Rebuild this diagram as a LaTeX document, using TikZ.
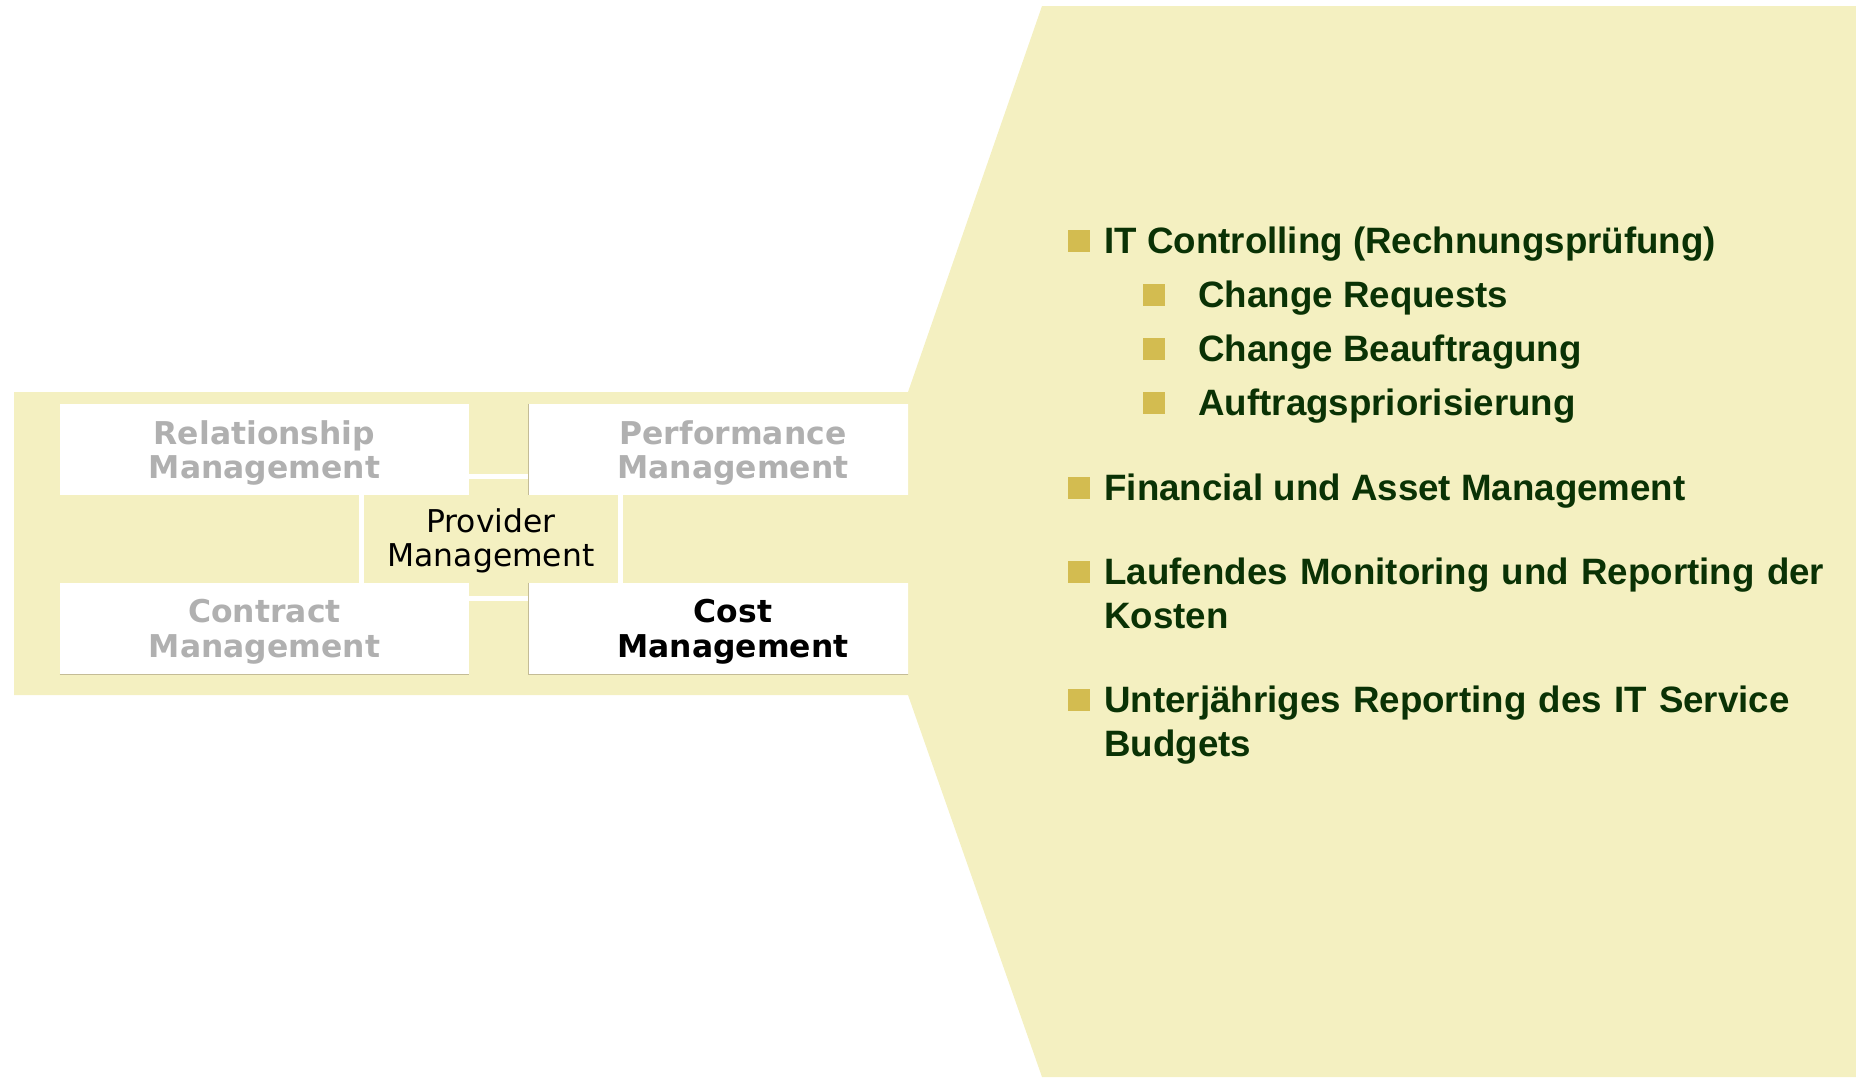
\documentclass[tikz,border=0pt]{standalone}
\usepackage{fontspec}
\newfontfamily\boxfont{DejaVu Sans}
\newfontfamily\itemfont{Liberation Sans}
\definecolor{bandyellow}{RGB}{244,240,193}
\definecolor{bulletgold}{RGB}{211,188,80}
\definecolor{itemgreen}{RGB}{10,50,5}
\definecolor{fadegray}{RGB}{176,176,176}
\definecolor{edgetan}{RGB}{196,188,150}

\begin{document}
\begin{tikzpicture}[x=0.5pt,y=-0.5pt]
		\tikzstyle{every node}+=[inner sep=0pt]
		\tikzstyle{mgmtbox}=[fill=white, minimum width=204.5pt, minimum height=45.5pt, text depth=0pt, align=center, font={\boxfont\bfseries\fontsize{15.7}{17.3}\selectfont}]
		\tikzstyle{provbox}=[draw=white, line width=2.5pt, fill=bandyellow, minimum width=129.5pt, minimum height=61pt, text depth=0pt, align=center, font={\boxfont\fontsize{15.7}{16.8}\selectfont}]
		\tikzstyle{bullet}=[fill=bulletgold, minimum size=11pt, anchor=south west]
		\tikzstyle{item}=[anchor=base west, align=left, text=itemgreen, font={\itemfont\bfseries\fontsize{18.35}{22}\selectfont}]
		\useasboundingbox (0,0) rectangle (1856,1077);
		% band and wedge
		\fill [bandyellow] (14,392) -- (908,392) -- (1042,6) -- (1856,6) -- (1856,1077) -- (1042,1077) -- (908,695) -- (14,695) -- cycle;
		% the four areas round the provider
		\node [provbox] (prov) at (491,537.5) {Provider\\Management};
		\begin{scope}
		\clip (0,0) rectangle (908,1077);
		\node [mgmtbox, text=fadegray] (rel) at (264.5,449.5) {Relationship\\Management};
		\node [mgmtbox, text=fadegray] (perf) at (733,449.5) {Performance\\Management};
		\node [mgmtbox, text=fadegray] (contr) at (264.5,628.5) {Contract\\Management};
		\node [mgmtbox, text=black] (cost) at (733,628.5) {Cost\\Management};
		\draw [edgetan, line width=0.6pt] (perf.north west) -- (perf.south west);
		\draw [edgetan, line width=0.6pt] (cost.north west) -- (cost.south west) -- (cost.south east);
		\draw [edgetan, line width=0.6pt] (contr.south west) -- (contr.south east);
		\end{scope}
		% list
		\node [bullet] (b1) at (1068,252) {};
		\node [item] (it) at (1104,253) {IT Controlling (Rechnungsprüfung)};
		\node [bullet] (b1a) at (1143,306) {};
		\node [item] (chreq) at (1198,307) {Change Requests};
		\node [bullet] (b1b) at (1143,360) {};
		\node [item] (chbeauf) at (1198,361) {Change Beauftragung};
		\node [bullet] (b1c) at (1143,414) {};
		\node [item] (prio) at (1198,415) {Auftragspriorisierung};
		\node [bullet] (b2) at (1068,499) {};
		\node [item] (fin) at (1104,500) {Financial und Asset Management};
		\node [bullet] (b3) at (1068,583) {};
		\node [item, text width=372pt] (lauf) at (1104,584) {Laufendes Monitoring und Reporting der\\Kosten};
		\node [bullet] (b4) at (1068,711) {};
		\node [item, text width=372pt] (unter) at (1104,712) {Unterjähriges Reporting des IT Service\\Budgets};
\end{tikzpicture}
\end{document}
